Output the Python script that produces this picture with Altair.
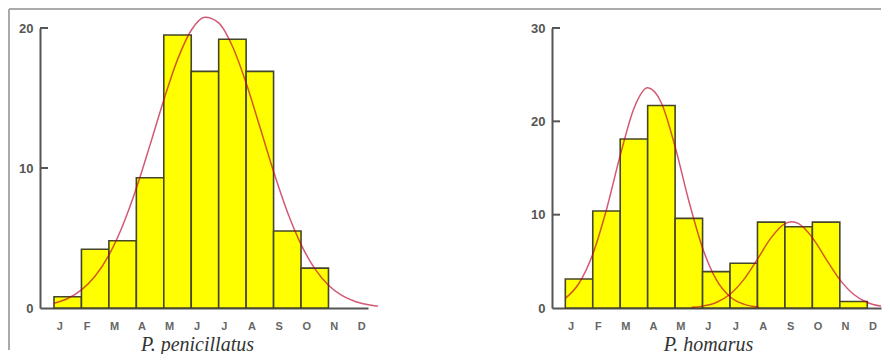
import altair as alt
import pandas as pd

# ---------------- data ----------------
months = ["J", "F", "M", "A", "M", "J", "J", "A", "S", "O", "N", "D"]

# P. penicillatus monthly frequencies (Jan..Oct)
pen_counts = [0.8, 4.2, 4.8, 9.3, 19.5, 16.9, 19.2, 16.9, 5.5, 2.85]
# fitted curve (month units, bar i spans [i, i+1])
pen_curve_x = [0, 0.5, 1, 1.5, 2, 2.5, 3, 3.5, 4, 4.5, 5, 5.5, 6, 6.5, 7, 7.5,
               8, 8.5, 9, 9.5, 10, 10.5, 11, 11.5, 11.8]
pen_curve_y = [0.34, 0.68, 1.29, 2.28, 3.78, 5.88, 8.55, 11.65, 14.86, 17.74,
               19.84, 20.77, 20.37, 18.70, 16.07, 12.94, 9.75, 6.88, 4.55, 2.81,
               1.63, 0.88, 0.45, 0.21, 0.13]

# P. homarus monthly frequencies (Jan..Nov)
hom_counts = [3.1, 10.4, 18.1, 21.7, 9.6, 3.9, 4.8, 9.2, 8.7, 9.2, 0.7]
hom_curve1_x = [0, 0.5, 1, 1.5, 2, 2.5, 3, 3.5, 4, 4.5, 5, 5.5, 6, 6.5, 7.05]
hom_curve1_y = [1.03, 2.65, 5.76, 10.56, 16.35, 21.38, 23.59, 21.97, 17.27,
                11.46, 6.42, 3.04, 1.21, 0.41, 0.10]
hom_curve2_x = [4.6, 5, 5.5, 6, 6.5, 7, 7.5, 8, 8.25, 8.5, 9, 9.5, 10, 10.5,
                11, 11.5, 11.75]
hom_curve2_y = [0.07, 0.20, 0.59, 1.47, 3.04, 5.24, 7.54, 9.04, 9.25, 9.04,
                7.54, 5.24, 3.04, 1.47, 0.59, 0.20, 0.11]

pen_yticks = [0, 10, 20]
hom_yticks = [0, 10, 20, 30]

# ---------------- styling ----------------
AXIS_COLOR = "#555555"
BAR_FILL = "#ffff00"
BAR_STROKE = "#45452a"
CURVE_COLOR = "#b8002a"
SANS = "Liberation Sans"
SERIF = "Liberation Serif"

label_pos = [i + 0.19 for i in range(len(months))]
label_expr = "[" + ",".join(f"'{m}'" for m in months) + "][floor(datum.value)]"


def panel(counts, curves, ymax, yticks, xdom, width, title, title_x,
          border=False, clip=False):
    bars_df = pd.DataFrame({
        "start": list(range(len(counts))),
        "end": [i + 1 for i in range(len(counts))],
        "n": counts,
        "month": months[:len(counts)],
    })
    rows = []
    for sid, (xs, ys) in enumerate(curves):
        for xv, yv in zip(xs, ys):
            rows.append({"x": xv, "y": yv, "series": f"s{sid}"})
    curve_df = pd.DataFrame(rows)
    tick_df = pd.DataFrame({"v": [t for t in yticks if t > 0]})

    x_scale = alt.Scale(domain=xdom, nice=False, zero=False)
    y_scale = alt.Scale(domain=[0, ymax], nice=False, zero=True)

    xaxis = alt.Axis(
        values=label_pos, labelExpr=label_expr, ticks=False, grid=False,
        domainColor=AXIS_COLOR, domainWidth=2,
        labelFont=SANS, labelFontWeight="bold", labelFontSize=11,
        labelColor="#666666", labelPadding=12, labelFlush=False,
        labelOverlap=False,
        title=title, titleFont=SERIF, titleFontStyle="italic",
        titleFontWeight="normal", titleFontSize=20, titleColor="#333333",
        titleX=title_x, titleY=42, titleBaseline="alphabetic",
        titleAlign="center",
    )
    yaxis = alt.Axis(
        values=yticks, ticks=False, grid=False,
        domainColor=AXIS_COLOR, domainWidth=2,
        labelFont=SANS, labelFontWeight="bold", labelFontSize=13,
        labelColor="#555555", labelPadding=7, title=None,
    )

    bars = alt.Chart(bars_df).mark_rect(
        fill=BAR_FILL, stroke=BAR_STROKE, strokeWidth=1.6
    ).encode(
        x=alt.X("start:Q", scale=x_scale, axis=xaxis),
        x2="end:Q",
        y=alt.Y("n:Q", scale=y_scale, axis=yaxis),
        y2=alt.datum(0),
    )
    line_kw = dict(interpolate="monotone", color=CURVE_COLOR, opacity=0.65,
                   strokeWidth=1.5)
    if clip:
        line_kw["clip"] = True
    line = alt.Chart(curve_df).mark_line(**line_kw).encode(
        x=alt.X("x:Q", scale=x_scale, axis=xaxis),
        y=alt.Y("y:Q", scale=y_scale, axis=yaxis),
        detail="series:N",
    )
    ticks = alt.Chart(tick_df).mark_rule(color=AXIS_COLOR, strokeWidth=2).encode(
        y=alt.Y("v:Q", scale=y_scale, axis=yaxis),
        x=alt.value(0),
        x2=alt.value(8),
    )
    layers = [bars, line, ticks]
    if border:
        one = pd.DataFrame({"a": [0]})
        top = alt.Chart(one).mark_rule(color="#aaaaaa", strokeWidth=2).encode(
            x=alt.value(-31), x2=alt.value(841), y=alt.value(-19)
        )
        left = alt.Chart(one).mark_rule(color="#aaaaaa", strokeWidth=2).encode(
            x=alt.value(-31), y=alt.value(-19), y2=alt.value(322)
        )
        layers += [top, left]
    return alt.layer(*layers).properties(width=width, height=280)


left_panel = panel(pen_counts, [(pen_curve_x, pen_curve_y)], 20, pen_yticks,
                   [-0.51, 11.44], 328, "P. penicillatus", 157, border=True)
right_panel = panel(hom_counts, [(hom_curve1_x, hom_curve1_y),
                                 (hom_curve2_x, hom_curve2_y)], 30, hom_yticks,
                    [-0.485, 11.5], 329, "P. homarus", 156, clip=True)

chart = alt.hconcat(left_panel, right_panel, spacing=184, bounds="flush").properties(
    padding=0, background="white"
).configure_view(strokeWidth=0).configure_axisX(
    titleFont=SERIF, titleFontStyle="italic"
)

chart.save("out.html", embed_options={"renderer": "svg", "actions": False})
